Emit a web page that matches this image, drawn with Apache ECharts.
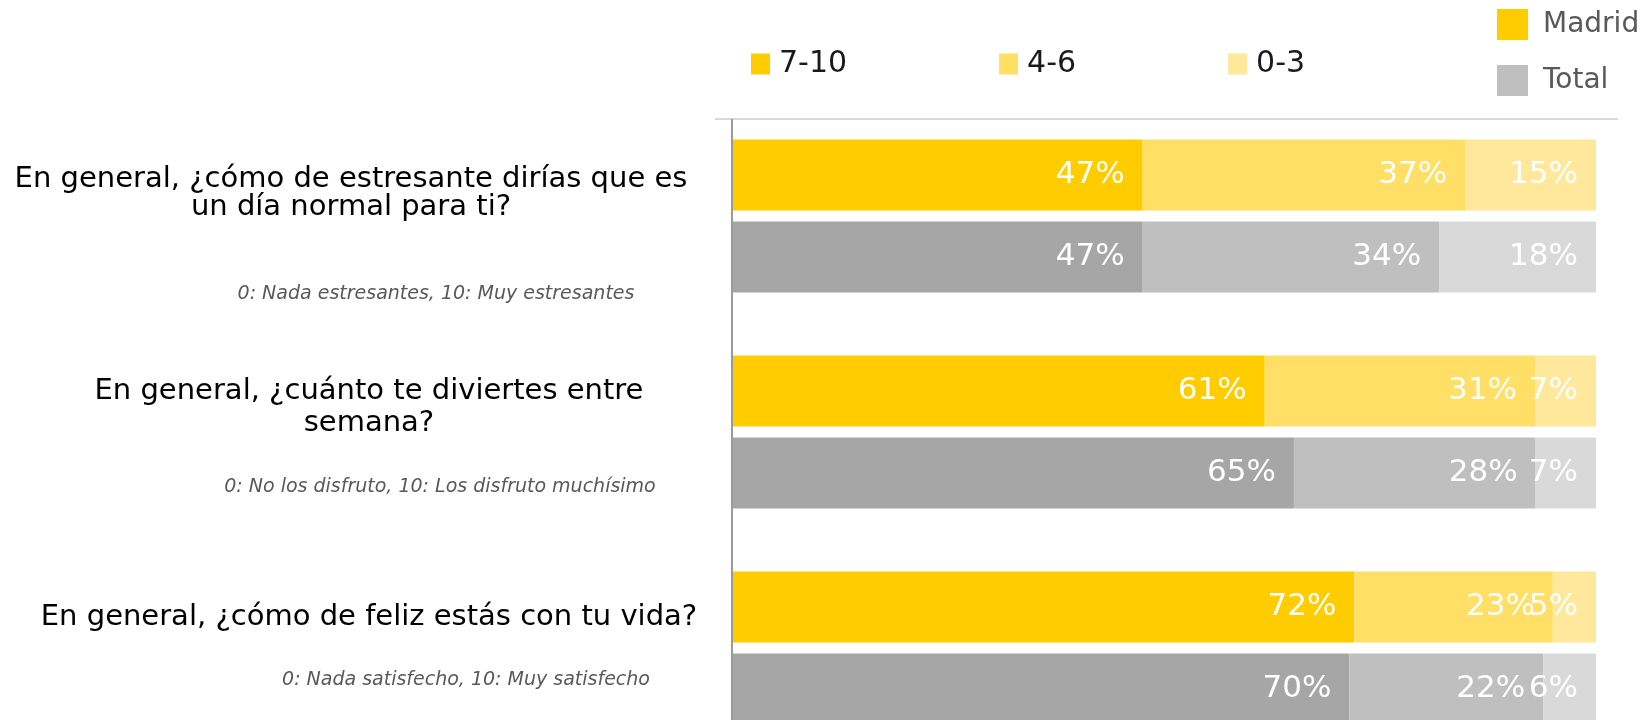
<!DOCTYPE html>
<html>
<head>
<meta charset="utf-8">
<script src="https://cdn.jsdelivr.net/npm/echarts@6/dist/echarts.min.js"></script>
<style>
  html, body { margin: 0; padding: 0; background: #fff; }
  #chart { width: 1637px; height: 720px; }
</style>
</head>
<body>
<div id="chart"></div>
<script>
// preguntas (ejes) y notas de escala
const questions = [
  'En general, ¿cómo de estresante dirías que es\nun día normal para ti?',
  'En general, ¿cuánto te diviertes entre\nsemana?',
  'En general, ¿cómo de feliz estás con tu vida?'
]
const notes = [
  '0: Nada estresantes, 10: Muy estresantes',
  '0: No los disfruto, 10: Los disfruto muchísimo',
  '0: Nada satisfecho, 10: Muy satisfecho'
]
const bands = ['7-10', '4-6', '0-3']

// % por tramo, Madrid y Total
const madridHigh = [47, 61, 72]
const madridMid = [37, 31, 23]
const madridLow = [15, 7, 5]
const totalHigh = [47, 65, 70]
const totalMid = [34, 28, 22]
const totalLow = [18, 7, 6]

const madridColors = ['#ffcc00', '#ffdf66', '#ffe89b']
const totalColors = ['#a6a6a6', '#bfbfbf', '#d9d9d9']
const FONT = '"DejaVu Sans", Verdana, sans-serif'

// barras al 100 %: cada tramo se escala sobre la suma de la fila
const toShare = (parts) => parts[0].map((_, i) => {
  const sum = parts.reduce((s, p) => s + p[i], 0)
  return parts.map(p => ({ value: p[i] / sum * 100, raw: p[i] }))
})
const madridRows = toShare([madridHigh, madridMid, madridLow])
const totalRows = toShare([totalHigh, totalMid, totalLow])

const barLabel = {
  show: true,
  position: 'insideRight',
  distance: 18,
  color: '#fff',
  fontSize: 31,
  fontFamily: FONT,
  formatter: p => p.data.raw + '%'
}

const makeSeries = (rows, colors, stack, prefix) => bands.map((b, k) => ({
  name: prefix + b,
  type: 'bar',
  stack,
  barWidth: 71,
  barGap: '15.5%',
  itemStyle: { color: colors[k] },
  label: barLabel,
  emphasis: { disabled: true },
  data: rows.map(r => r[k])
}))

// huecos verticales de cada bloque de texto del eje
const topPad = [40, 10, 0]
const gapPad = [61, 36, 37]
const qLine = [28, 32, 28]
const qShift = [36, 0, 0]
const noteShift = [134, 142, 194]

const rich = { }
questions.forEach((_, i) => {
  rich['t' + i] = { fontSize: 1, lineHeight: topPad[i] }
  rich['g' + i] = { fontSize: 1, lineHeight: gapPad[i] }
  rich['q' + i] = { fontSize: 29, lineHeight: qLine[i], color: '#000', fontFamily: FONT, padding: [0, qShift[i], 0, 0] }
  rich['n' + i] = { fontSize: 19, lineHeight: 24, color: '#595959', fontStyle: 'italic', fontFamily: FONT, padding: [0, 0, 0, noteShift[i]] }
})

const chart = echarts.init(document.getElementById('chart'))
chart.setOption({
  animation: false,
  grid: { left: 733, right: 41, top: 108, height: 648, outerBoundsMode: 'none', containLabel: false },
  legend: [
    {
      data: bands,
      left: 746,
      top: 44,
      icon: 'rect',
      itemWidth: 19,
      itemHeight: 21,
      itemGap: 152,
      selectedMode: false,
      textStyle: { fontSize: 30, color: '#1a1a1a', fontFamily: FONT, padding: [0, 0, 0, 4] }
    },
    {
      data: ['Madrid', 'Total'],
      orient: 'vertical',
      left: 1492,
      top: 4,
      icon: 'rect',
      itemWidth: 31,
      itemHeight: 31,
      itemGap: 25,
      selectedMode: false,
      textStyle: { fontSize: 28, color: '#595959', fontFamily: FONT, padding: [0, 0, 0, 10] }
    }
  ],
  xAxis: {
    type: 'value',
    min: 0,
    max: 100,
    show: false
  },
  yAxis: {
    type: 'category',
    inverse: true,
    data: questions,
    axisLine: { show: false },
    axisTick: { show: false },
    axisLabel: {
      margin: 364,
      align: 'center',
      formatter: (value, i) => {
        const lines = value.split('\n').map(t => `{q${i}|${t}}`).join('\n')
        const head = topPad[i] ? `{t${i}| }\n` : ''
        return `${head}${lines}\n{g${i}| }\n{n${i}|${notes[i]}}`
      },
      rich
    }
  },
  graphic: [
    { type: 'line', shape: { x1: 715, y1: 119, x2: 1618, y2: 119 }, style: { stroke: '#d9d9d9', lineWidth: 2 }, silent: true },
    { type: 'line', shape: { x1: 732, y1: 119, x2: 732, y2: 720 }, style: { stroke: '#9a9a9a', lineWidth: 2 }, silent: true }
  ],
  series: [
    ...makeSeries(madridRows, madridColors, 'madrid', ''),
    ...makeSeries(totalRows, totalColors, 'total', 'Total '),
    { name: 'Madrid', type: 'scatter', data: [], itemStyle: { color: '#ffcc00', opacity: 1 } },
    { name: 'Total', type: 'scatter', data: [], itemStyle: { color: '#bfbfbf', opacity: 1 } }
  ]
})
</script>
</body>
</html>
